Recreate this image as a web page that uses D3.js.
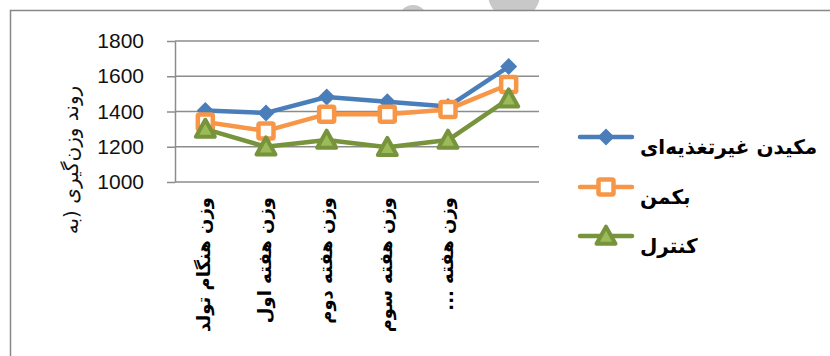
<!DOCTYPE html>
<html><head><meta charset="utf-8">
<script src="https://cdn.jsdelivr.net/npm/d3@7/dist/d3.min.js"></script>
<style>html,body{margin:0;padding:0;background:#fff;overflow:hidden}</style>
</head><body><svg id="c" width="830" height="356"></svg>
<script>
const categories = ["وزن هنگام تولد","وزن هفته اول","وزن هفته دوم","وزن هفته سوم","وزن هفته ...",""];
const seriesNames = ["مکیدن غیرتغذیه‌ای","بکمن","کنترل"];
const nonNutritive = [1405,1392,1482,1455,1428,1655];
const beckman = [1340,1290,1385,1385,1412,1553];
const control = [1300,1200,1238,1197,1238,1472];
const yTicks = [1000,1200,1400,1600,1800];
const yTitle = "روند وزن‌گیری (به";

const svg = d3.select("#c");
// background decorations
svg.append("circle").attr("cx",514).attr("cy",-6).attr("r",26).attr("fill","#c8c8c8");
svg.append("circle").attr("cx",413).attr("cy",19).attr("r",14).attr("fill","#c8c8c8");
svg.append("rect").attr("x",10.5).attr("y",10.5).attr("width",900).attr("height",400)
  .attr("fill","#fff").attr("stroke","#888").attr("stroke-width",1.5);

const x = d3.scaleBand().domain(d3.range(categories.length)).range([175,539]).padding(0);
const y = d3.scaleLinear().domain([1000,1800]).range([182,41]);
const cx = i => x(i) + x.bandwidth()/2;

// y axis
svg.append("g").attr("transform","translate(175,0)")
  .call(d3.axisLeft(y).tickValues(yTicks).tickSizeInner(8).tickSizeOuter(0).tickPadding(23).tickFormat(d3.format("d")))
  .call(g=>{
    g.select(".domain").attr("stroke","#8c8c8c").attr("stroke-width",1.5);
    g.selectAll(".tick line").attr("stroke","#8c8c8c").attr("stroke-width",1.5);
    g.selectAll(".tick text").attr("font-family","'Liberation Sans',Arial,sans-serif").attr("font-size",21).attr("fill","#111");
  });
// gridlines
svg.append("g").selectAll("line").data(yTicks).join("line")
  .attr("x1",175).attr("x2",539).attr("y1",d=>y(d)).attr("y2",d=>y(d))
  .attr("stroke","#8c8c8c").attr("stroke-width",1.5);

// y title
svg.append("text").attr("transform","translate(78,160) rotate(-90)")
  .attr("text-anchor","middle").attr("font-family","'DejaVu Sans',sans-serif")
  .attr("font-size",20).attr("fill","#111").text(yTitle);

// x labels
svg.append("g").selectAll("text").data(categories).join("text")
  .attr("transform",(d,i)=>`translate(${cx(i)+5},197) rotate(-90)`)
  .attr("direction","rtl").attr("text-anchor","start")
  .attr("font-family","'DejaVu Sans',sans-serif")
  .attr("font-weight","bold").attr("font-size",18).attr("fill","#000").text(d=>d);

const colors = {line:["#4a7ebb","#f79646","#77933c"]};
const line = d3.line().x((d,i)=>cx(i)).y(d=>y(d));
const data = [nonNutritive, beckman, control];

function marker(g, k, px, py){
  if(k===0){
    const s=8.5;
    g.append("path").attr("d",`M${px},${py-s}L${px+s},${py}L${px},${py+s}L${px-s},${py}Z`).attr("fill","#4a7ebb");
  } else if(k===1){
    const s=7.5;
    g.append("rect").attr("x",px-s).attr("y",py-s).attr("width",2*s).attr("height",2*s).attr("rx",1.5)
      .attr("fill","#fff").attr("stroke","#f79646").attr("stroke-width",4.5);
  } else {
    const h=17, w=19;
    g.append("path").attr("d",`M${px},${py-h*0.55}L${px+w/2},${py+h*0.45}L${px-w/2},${py+h*0.45}Z`)
      .attr("fill","#9bbb59").attr("stroke","#77933c").attr("stroke-width",4).attr("stroke-linejoin","round");
  }
}

data.forEach((vals,k)=>{
  const g = svg.append("g");
  g.append("path").datum(vals).attr("d",line).attr("fill","none")
    .attr("stroke",colors.line[k]).attr("stroke-width",4.5).attr("stroke-linejoin","round");
  vals.forEach((v,i)=>marker(g,k,cx(i),y(v)));
});

// legend
const legY = [137,187,236];
seriesNames.forEach((n,k)=>{
  const g = svg.append("g");
  g.append("line").attr("x1",580).attr("x2",632).attr("y1",legY[k]).attr("y2",legY[k])
    .attr("stroke",colors.line[k]).attr("stroke-width",4.5).attr("stroke-linecap","round");
  marker(g,k,606,legY[k]);
  g.append("text").attr("x",640).attr("y",legY[k]+17).attr("text-anchor","start")
    .attr("font-family","'DejaVu Sans',sans-serif").attr("font-weight","bold").attr("font-size",20)
    .attr("fill","#000").text(n);
});
</script></body></html>
